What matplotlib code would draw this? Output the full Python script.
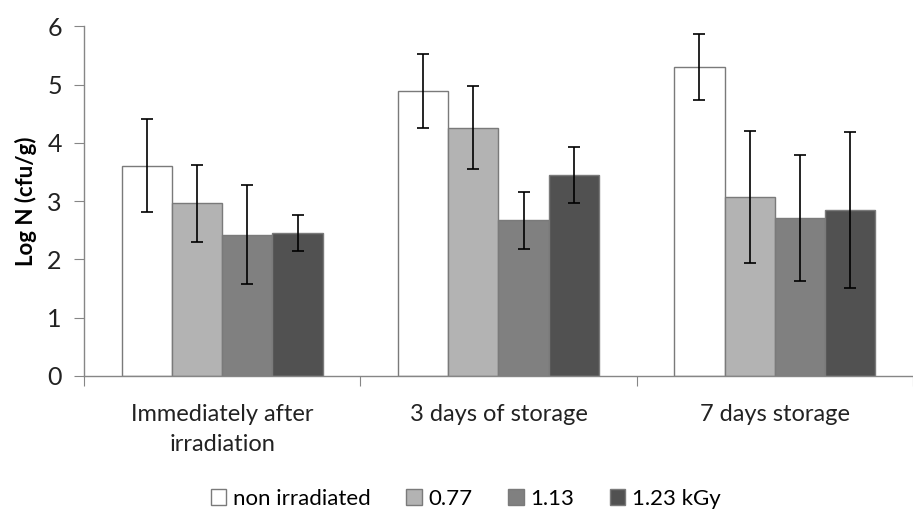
import matplotlib
matplotlib.use("Agg")
import matplotlib.pyplot as plt
from matplotlib import font_manager
import numpy as np

# 字体: 原图是 Calibri, 这里用较窄的 Lato 代替
available = {f.name for f in font_manager.fontManager.ttflist}
for fam in ["Lato", "Open Sans", "Liberation Sans", "DejaVu Sans"]:
    if fam in available:
        plt.rcParams["font.family"] = [fam, "DejaVu Sans"]
        break

# 数据
groups = ["Immediately after\nirradiation", "3 days of storage", "7 days storage"]
series = ["non irradiated", "0.77", "1.13", "1.23 kGy"]
non_irr = [3.61, 4.89, 5.30]
non_irr_err = [0.80, 0.63, 0.57]
d077 = [2.96, 4.26, 3.07]
d077_err = [0.66, 0.71, 1.14]
d113 = [2.42, 2.67, 2.71]
d113_err = [0.85, 0.49, 1.08]
d123 = [2.46, 3.45, 2.85]
d123_err = [0.31, 0.48, 1.34]

values = [non_irr, d077, d113, d123]
errors = [non_irr_err, d077_err, d113_err, d123_err]
colors = ["#ffffff", "#b3b3b3", "#808080", "#515151"]
edge = "#7a7a7a"

fig = plt.figure(figsize=(9.13, 5.14), dpi=100)
ax = fig.add_axes([0.092, 0.2685, 0.908, 0.6805])

x = np.arange(len(groups))
w = 0.182
for i in range(4):
    ax.bar(x + (i - 1.5) * w, values[i], w, color=colors[i], edgecolor=edge,
           linewidth=1.0, label=series[i], zorder=2)
    ax.errorbar(x + (i - 1.5) * w, values[i], yerr=errors[i], fmt="none",
                ecolor="black", elinewidth=1.2, capsize=4.5, capthick=1.2, zorder=3)

ax.set_ylim(0, 6)
ax.set_xlim(-0.5, 2.46)
ax.set_yticks(range(7))
ax.set_xticks([-0.5, 0.5, 1.5, 2.5])
ax.set_xticklabels([])
ax.set_xticks(x, minor=True)
ax.set_xticklabels(groups, minor=True, fontsize=17, color="#222222", linespacing=1.55)
ax.tick_params(axis="x", which="minor", length=0, pad=20)
ax.tick_params(axis="x", which="major", length=7, color="#868686", direction="out")
ax.tick_params(axis="y", length=7, color="#868686", labelsize=18, pad=9, labelcolor="#222222")

for s in ["top", "right"]:
    ax.spines[s].set_visible(False)
for s in ["left", "bottom"]:
    ax.spines[s].set_color("#868686")
    ax.spines[s].set_linewidth(1.0)

ax.set_ylabel("Log N (cfu/g)", fontsize=16, fontweight="bold", labelpad=7)

fig.legend(loc="center", bbox_to_anchor=(0.51, 0.03), ncol=4, frameon=False,
           fontsize=16, handlelength=0.7, handleheight=0.7, handletextpad=0.3,
           columnspacing=1.6)

fig.savefig("out.png", dpi=100)
